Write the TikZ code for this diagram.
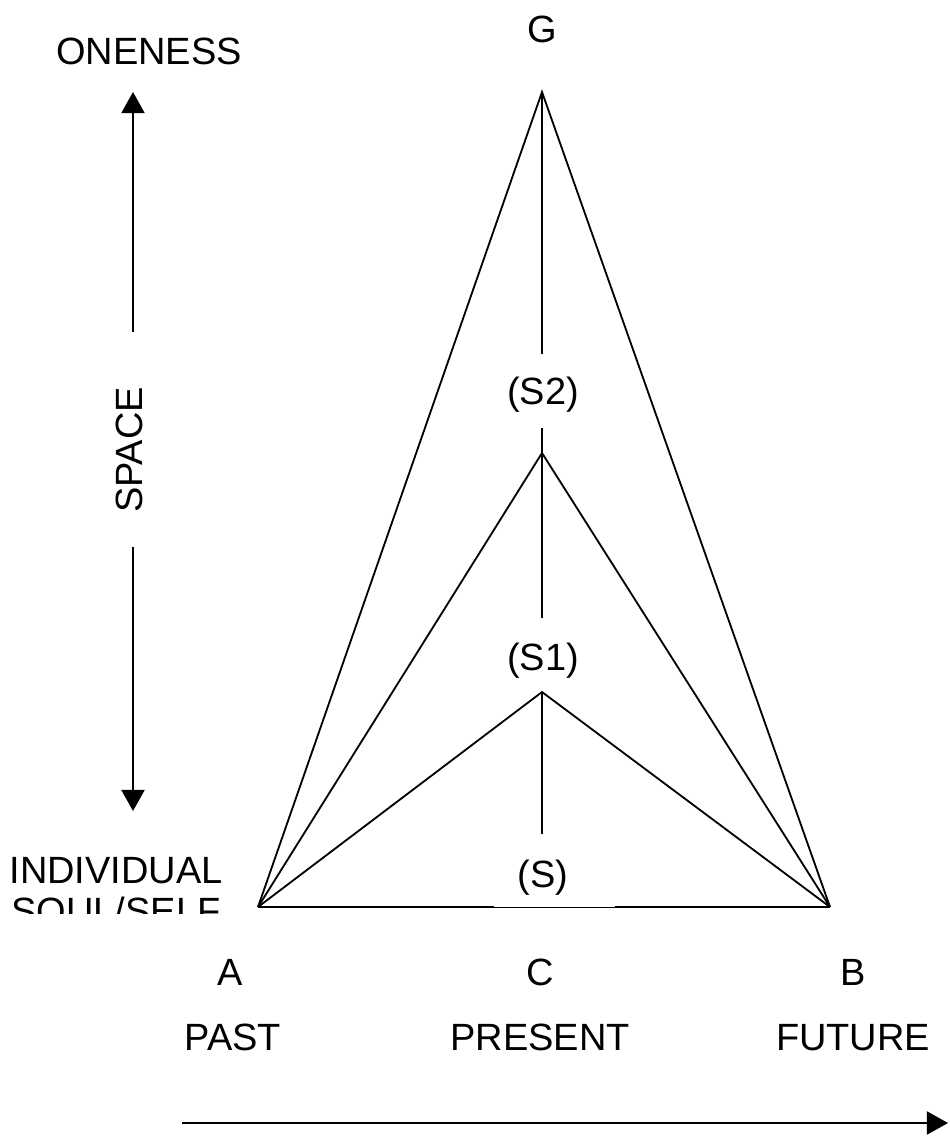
\documentclass[tikz,border=0pt]{standalone}
\usepackage{fontspec}
\setmainfont{Liberation Sans}
\usetikzlibrary{arrows.meta}
\begin{document}
\begin{tikzpicture}[x=0.025cm,y=-0.025cm,
  ln/.style={line width=1.3pt,line cap=butt},
  arr/.style={ln,-{Triangle[length=0.53cm,width=0.58cm]}},
  lbl/.style={inner sep=0pt,anchor=base,font=\fontsize{27}{32}\selectfont}]
\useasboundingbox (0,0) rectangle (949,1136);
% points
\coordinate (A) at (258,907);
\coordinate (B) at (830,907);
\coordinate (G) at (542,92);
\coordinate (M) at (542,453);
\coordinate (I) at (542,692);
\coordinate (g1) at (542,354);
\coordinate (g2) at (542,428);
\coordinate (g3) at (542,618);
\coordinate (g4) at (542,834);
% triangles
\draw[ln,line join=miter] (A) -- (G) -- (B);
\draw[ln] (A) -- (M) -- (B);
\draw[ln] (A) -- (I) -- (B);
\draw[ln] (A) -- (B);
\fill[white] (494,901) rectangle (615,906.5);
% center line
\draw[ln] (G) -- (g1);
\draw[ln] (g2) -- (M) -- (g3);
\draw[ln] (I) -- (g4);
% labels
\node[lbl] (lG) at (542,43) {G};
\node[lbl] (lS2) at (543,404) {(S2)};
\node[lbl] (lS1) at (543,670) {(S1)};
\node[lbl] (lS) at (543,887) {(S)};
\node[lbl] (lA) at (230,985) {A};
\node[lbl] (lC) at (540,985) {C};
\node[lbl] (lB) at (853,985) {B};
\node[lbl] (past) at (233,1050) {PAST};
\node[lbl] (present) at (540,1050) {PRESENT};
\node[lbl] (future) at (853,1050) {FUTURE};
\node[lbl] (one) at (149,65) {ONENESS};
\node[lbl] (ind) at (116,883) {INDIVIDUAL};
\begin{scope}
\clip (0,860) rectangle (250,913);
\node[lbl] (soul) at (116,924) {SOUL/SELF};
\end{scope}
\node[lbl,rotate=90] (space) at (142,450) {SPACE};
% left vertical arrows
\coordinate (v1) at (133,332);
\coordinate (v1t) at (133,92);
\coordinate (v2) at (133,547);
\coordinate (v2t) at (133,811);
\draw[arr] (v1) -- (v1t);
\draw[arr] (v2) -- (v2t);
% bottom arrow
\coordinate (h1) at (182,1123);
\coordinate (h2) at (948,1123);
\draw[arr] (h1) -- (h2);
\end{tikzpicture}
\end{document}
